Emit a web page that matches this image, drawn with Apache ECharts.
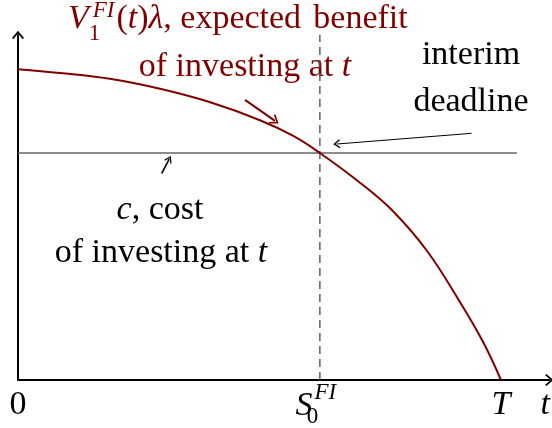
<!DOCTYPE html>
<html>
<head>
<meta charset="utf-8">
<title>Interim deadline</title>
<script src="https://cdn.jsdelivr.net/npm/echarts@6/dist/echarts.min.js"></script>
<style>
  html, body { margin: 0; padding: 0; background: #fff; }
  #chart { width: 552px; height: 428px; }
</style>
</head>
<body>
<div id="chart"></div>
<script>
// time axis: 0 .. T (T = 1), y axis: 0 .. 1
const tValues = [0, 0.087, 0.19, 0.294, 0.398, 0.501, 0.569, 0.625, 0.708, 0.776, 0.847, 0.915, 0.963, 1.0]
const benefitValues = [0.901, 0.89, 0.873, 0.844, 0.805, 0.753, 0.708, 0.658, 0.572, 0.49, 0.374, 0.226, 0.11, 0]
const costLevel = 0.658
const costLineEnd = 1.033
const deadlineT = 0.625
const horizonT = 1
const xTickValues = [0, deadlineT, horizonT]
const xTickLabels = ['{n|0}', '{S|S}{sub|0}{sup|FI}', '{i|T}']
// annotation arrows, [from, to] in data units
const benefitArrow = [[0.47, 0.812], [0.532, 0.751]]
const costArrow = [[0.2975, 0.599], [0.313, 0.64]]
const deadlineArrow = [[0.939, 0.715], [0.66, 0.684]]

const RED = '#800000'
const SERIF = 'Liberation Serif'
const FS = 34
const chevron = 'path://M5,0 L10,6 L9,7 L5,2.2 L1,7 L0,6 Z'

// zrender style rich text (graphic elements)
const richFor = (color, supH, subH) => ({
  n: { fill: color, fontSize: FS, fontFamily: SERIF, lineHeight: 40 },
  e: { fill: color, fontSize: FS, fontFamily: SERIF, lineHeight: 40, width: 150 },
  i: { fill: color, fontSize: FS, fontFamily: SERIF, fontStyle: 'italic', lineHeight: 40 },
  sup: { fill: color, fontSize: 23, fontFamily: SERIF, fontStyle: 'italic', verticalAlign: 'top', height: supH, padding: [0, 2, 0, 4] },
  sub: { fill: color, fontSize: 23, fontFamily: SERIF, verticalAlign: 'bottom', height: subH, width: 0 }
})

const arrowItem = (pair, color, width, size) => [
  { coord: pair[0], symbol: 'none', lineStyle: { color, width, type: 'solid' } },
  { coord: pair[1], symbol: chevron, symbolSize: size }
]

const chart = echarts.init(document.getElementById('chart'), null, { renderer: 'canvas' })

chart.setOption({
  animation: false,
  backgroundColor: '#fff',
  grid: { left: 18, right: 2.7, top: 35, bottom: 48, outerBoundsMode: 'none' },
  xAxis: {
    type: 'value',
    min: 0,
    max: 1.1,
    name: 't',
    nameLocation: 'end',
    nameGap: -4,
    nameTextStyle: {
      fontSize: FS, fontFamily: SERIF, fontStyle: 'italic', color: '#000',
      align: 'center', verticalAlign: 'top', lineHeight: 40, padding: [5, 0, 0, 0]
    },
    splitLine: { show: false },
    axisTick: { show: false },
    axisLine: {
      onZero: false,
      symbol: ['none', chevron],
      symbolSize: [12, 9],
      lineStyle: { color: '#000', width: 2 }
    },
    axisLabel: {
      customValues: xTickValues,
      margin: 5,
      formatter: (v) => xTickLabels[xTickValues.indexOf(v)] || '',
      rich: {
        n: { color: '#000', fontSize: FS, fontFamily: SERIF, lineHeight: 40 },
        i: { color: '#000', fontSize: FS, fontFamily: SERIF, fontStyle: 'italic', lineHeight: 40 },
        S: { color: '#000', fontSize: FS, fontFamily: SERIF, fontStyle: 'italic', lineHeight: 42 },
        sup: { color: '#000', fontSize: 23, fontFamily: SERIF, fontStyle: 'italic', verticalAlign: 'top', height: 15, padding: [0, 8, 0, 2] },
        sub: { color: '#000', fontSize: 23, fontFamily: SERIF, verticalAlign: 'bottom', height: 20, width: 0 }
      }
    }
  },
  yAxis: {
    type: 'value',
    min: 0,
    max: 1,
    splitLine: { show: false },
    axisTick: { show: false },
    axisLabel: { show: false },
    axisLine: {
      show: true,
      onZero: false,
      symbol: ['none', chevron],
      symbolSize: [12, 9],
      lineStyle: { color: '#000', width: 2 }
    }
  },
  series: [
    {
      name: 'cost',
      type: 'line',
      silent: true,
      showSymbol: false,
      data: [[0, costLevel], [costLineEnd, costLevel]],
      lineStyle: { color: '#666', width: 1.5 },
      markLine: {
        silent: true,
        animation: false,
        label: { show: false },
        emphasis: { disabled: true },
        data: [
          arrowItem(benefitArrow, RED, 2, [11, 9]),
          arrowItem(costArrow, '#000', 1.6, [8, 7]),
          arrowItem(deadlineArrow, '#000', 1, [9, 7])
        ]
      }
    },
    {
      name: 'deadline',
      type: 'line',
      silent: true,
      showSymbol: false,
      data: [[deadlineT, 0], [deadlineT, 1]],
      lineStyle: { color: '#555', width: 1.4, type: [8, 5] }
    },
    {
      name: 'benefit',
      type: 'line',
      silent: true,
      showSymbol: false,
      smooth: 0.4,
      data: tValues.map((t, i) => [t, benefitValues[i]]),
      lineStyle: { color: RED, width: 2 }
    }
  ],
  graphic: [
    {
      type: 'text', x: 68, y: 19, silent: true,
      style: {
        text: '{i|V}{sub|1}{sup|FI}{n|(}{i|t}{n|)}{i|λ}{e|, expected}{n|benefit}',
        align: 'left', verticalAlign: 'middle', rich: richFor(RED, 23, 10)
      }
    },
    {
      type: 'text', x: 245, y: 67, silent: true,
      style: { text: '{n|of investing at }{i|t}', align: 'center', verticalAlign: 'middle', rich: richFor(RED, 23, 10) }
    },
    {
      type: 'text', x: 471, y: 55, silent: true,
      style: { text: '{n|interim}', align: 'center', verticalAlign: 'middle', rich: richFor('#000', 23, 10) }
    },
    {
      type: 'text', x: 471, y: 102, silent: true,
      style: { text: '{n|deadline}', align: 'center', verticalAlign: 'middle', rich: richFor('#000', 23, 10) }
    },
    {
      type: 'text', x: 160, y: 210, silent: true,
      style: { text: '{i|c}{n|, cost}', align: 'center', verticalAlign: 'middle', rich: richFor('#000', 23, 10) }
    },
    {
      type: 'text', x: 161, y: 253, silent: true,
      style: { text: '{n|of investing at }{i|t}', align: 'center', verticalAlign: 'middle', rich: richFor('#000', 23, 10) }
    }
  ]
})

window.addEventListener('resize', () => chart.resize())
</script>
</body>
</html>
